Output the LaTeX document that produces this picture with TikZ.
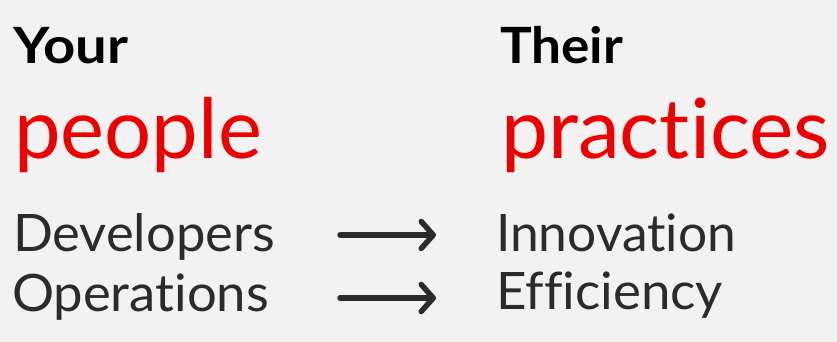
\documentclass[tikz,border=0pt]{standalone}
\usepackage{fontspec}
\usepackage{graphicx}
\setmainfont[Ligatures=NoCommon]{Lato}
\usetikzlibrary{arrows.meta}
\definecolor{bgc}{HTML}{F2F2F2}
\definecolor{rhred}{HTML}{EE0000}
\definecolor{txt}{HTML}{2B2B2B}
\begin{document}
\begin{tikzpicture}[x=1pt,y=1pt,
  lbl/.style={anchor=base west,inner sep=0pt,outer sep=0pt},
  head/.style={lbl,text=black,font=\fontsize{50}{50}\selectfont\bfseries},
  big/.style={lbl,text=rhred,font=\fontsize{83}{83}\selectfont},
  item/.style={lbl,text=txt,font=\fontsize{51.6}{52}\selectfont},
  arr/.style={draw=txt,line width=5.5pt,line cap=round,
    -{Straight Barb[length=12pt,width=27pt,line cap=round,line join=round]}}]
\fill[bgc] (0,0) rectangle (837,342);
\useasboundingbox (0,0) rectangle (837,342);
\node[head] (your) at (13,278) {\resizebox{115pt}{\height}{Your}};
\node[big] (people) at (14,183) {\resizebox{248pt}{\height}{people}};
\node[head] (their) at (500,278) {\resizebox{123pt}{\height}{Their}};
\node[big] (practices) at (501,183) {\resizebox{329pt}{\height}{practices}};
\node[item] (dev) at (13,90) {\resizebox{262pt}{\height}{Developers}};
\node[item] (ops) at (12,30) {\resizebox{257pt}{\height}{Operations}};
\node[item] (inn) at (496,90) {\resizebox{240pt}{\height}{Innovation}};
\node[item] (eff) at (496,32) {\resizebox{227pt}{\height}{Efficiency}};
\draw[arr,shorten <=65pt,shorten >=60pt] ([yshift=17pt]dev.base east) -- ([yshift=17pt]dev.base east -| inn.base west);
\draw[arr,shorten <=71pt,shorten >=60pt] ([yshift=14pt]ops.base east) -- ([yshift=14pt]ops.base east -| eff.base west);
\end{tikzpicture}
\end{document}
